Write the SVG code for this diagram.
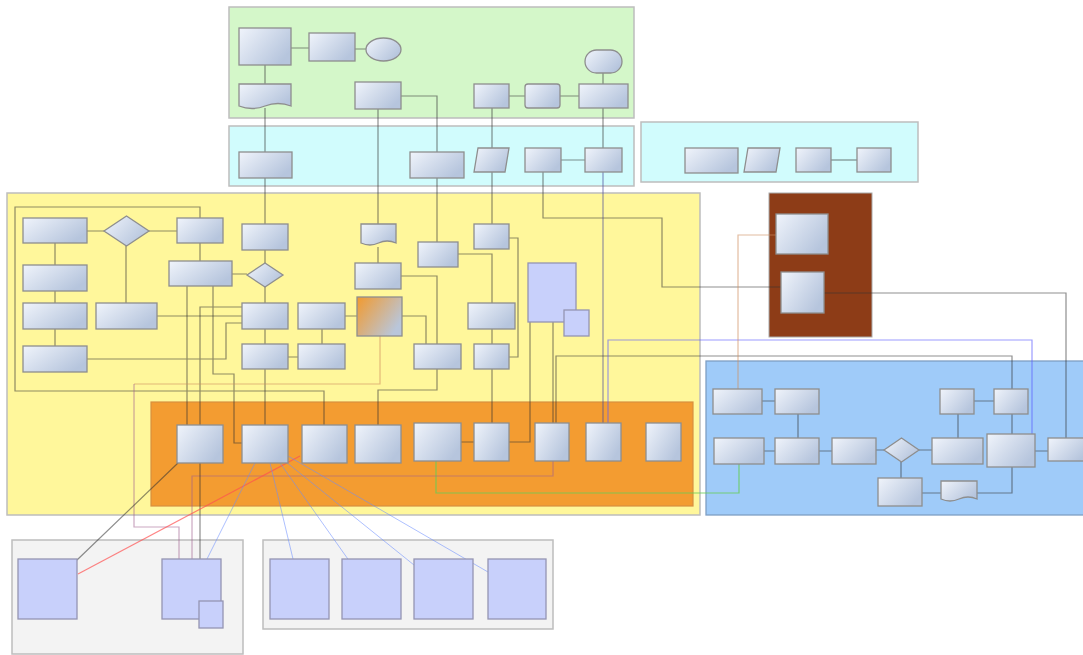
<svg xmlns="http://www.w3.org/2000/svg" width="1083" height="655" viewBox="0 0 1083 655">
<defs>
<linearGradient id="g" x1="0" y1="0" x2="1" y2="0.6"><stop offset="0" stop-color="#f0f4fb"/><stop offset="1" stop-color="#b6c5dd"/></linearGradient>
<linearGradient id="go" x1="0" y1="0" x2="1" y2="0.6"><stop offset="0" stop-color="#f29a2e"/><stop offset="1" stop-color="#b9c6da"/></linearGradient>
<style>
.n{fill:url(#g);stroke:#8e8e8e;stroke-width:1.3}
.p{fill:#c8d0fb;stroke:#9494b2;stroke-width:1.3}
.k{stroke:#bdbdbd;stroke-width:1.5}
.c{fill:none;stroke:#333;stroke-opacity:0.55;stroke-width:1.2}
.b{fill:none;stroke:#5a5aff;stroke-opacity:0.6;stroke-width:1.2}
.bg{fill:none;stroke:#4a4a9a;stroke-opacity:0.6;stroke-width:1.2}
.lb{fill:none;stroke:#6a8cff;stroke-opacity:0.55;stroke-width:1}
.gr{fill:none;stroke:#66cc55;stroke-opacity:0.8;stroke-width:1.2}
.rd{fill:none;stroke:#ff5050;stroke-opacity:0.7;stroke-width:1.2}
.mv{fill:none;stroke:#a06090;stroke-opacity:0.55;stroke-width:1.2}
.tn{fill:none;stroke:#d09060;stroke-opacity:0.6;stroke-width:1.2}
</style>
</defs>
<g id="containers">
<rect id="green" x="229" y="7" width="405" height="111" fill="#d4f7c9" class="k"/>
<rect id="cyan1" x="229" y="126" width="405" height="60" fill="#d1fcfd" class="k"/>
<rect id="cyan2" x="641" y="122" width="277" height="60" fill="#d1fcfd" class="k"/>
<rect id="yellow" x="7" y="193" width="693" height="322" fill="#fff79b" class="k"/>
<rect id="orange" x="151" y="402" width="542" height="104" fill="#f39c31" stroke="#d89040" stroke-width="1.2"/>
<rect id="brown" x="769" y="193" width="103" height="144" fill="#8d3c17" stroke="#aaa" stroke-width="1"/>
<rect id="blue" x="706" y="361" width="380" height="154" fill="#9fcbf9" stroke="#7f9fc4" stroke-width="1.3"/>
<rect id="gray1" x="12" y="540" width="231" height="114" fill="#f3f3f3" class="k"/>
<rect id="gray2" x="263" y="540" width="290" height="89" fill="#f3f3f3" class="k"/>
</g>
<g id="connectors">
<path class="c" d="M291,48H309M355,49H366M265,65V84M265,108V152M265,178V224M265,250V263M265,287V303M265,329V344M265,369V425"/>
<path class="c" d="M378,109V224M401,96H437V152M437,178V242M492,108V148M492,172V224M509,96H525M560,96H579M603,73V84M603,108V148M561,160H585"/>
<path class="c" d="M543,172V218H662V287H781"/>
<path class="bg" d="M603,172V423"/>
<path class="c" d="M831,160H857"/>
<path class="c" d="M87,231H104M149,231H177M126,246V303M55,243V265M55,291V303M55,329V346M200,243V261M232,274H247M157,316H242"/>
<path class="c" d="M87,359H226V323H242M187,286V425M213,286V374H234V443H242M242,307H200V425M200,218V207H15V391H324V425"/>
<path class="c" d="M378,247V263M401,276H437V344M437,369V390H378V425M402,316H426V344M345,316H357M322,329V344M288,357H298"/>
<path class="c" d="M458,254H492V303M509,238H518V357H509M492,329V344M492,369V423M530,322V442H509M553,322V423M461,442H474"/>
<path class="c" d="M556,423V356H1012V389"/>
<path class="b" d="M608,423V340H1032V434"/>
<path class="gr" d="M436,461V493H739V464"/>
<path class="mv" d="M553,461V476H192V559"/>
<path class="tn" d="M380,336V384H134"/>
<path class="mv" d="M134,384V527H179V559"/>
<path class="c" d="M200,463V559M178,463L77,560"/>
<path class="rd" d="M300,456L78,574"/>
<path class="lb" d="M255,463L207,559M270,463L293,559M280,463L350,562M286,462L414,565M288,456L488,572"/>
<path class="c" d="M762,401H775M798,414V438M764,451H775M819,451H832M876,450H884M919,450H932M974,401H994M958,414V438M1012,414V434M1035,451H1048M901,462V478M922,493H941M977,493H1012V467"/>
<path class="tn" d="M738,389V235H776"/>
<path class="c" d="M824,293H1066V438"/>
</g>
<g id="ga"><rect class="n" x="239" y="28" width="52" height="37"/></g>
<g id="gb"><rect class="n" x="309" y="33" width="46" height="28"/></g>
<g id="gell"><ellipse class="n" cx="383.5" cy="49.5" rx="17.5" ry="11.5"/></g>
<g id="gdoc"><path class="n" d="M239,84H291V106Q278,101 265,106T239,106Z"/></g>
<g id="gc"><rect class="n" x="355" y="82" width="46" height="27"/></g>
<g id="gd"><rect class="n" x="474" y="84" width="35" height="24"/></g>
<g id="ge"><rect class="n" x="525" y="84" width="35" height="24" rx="3"/></g>
<g id="gf"><rect class="n" x="579" y="84" width="49" height="24"/></g>
<g id="gst"><rect class="n" x="585" y="50" width="37" height="23" rx="11.5"/></g>
<g id="c1"><rect class="n" x="239" y="152" width="53" height="26"/></g>
<g id="c2"><rect class="n" x="410" y="152" width="54" height="26"/></g>
<g id="c3"><path class="n" d="M478,148H509L505,172H474Z"/></g>
<g id="c4"><rect class="n" x="525" y="148" width="36" height="24"/></g>
<g id="c5"><rect class="n" x="585" y="148" width="37" height="24"/></g>
<g id="d1"><rect class="n" x="685" y="148" width="53" height="25"/></g>
<g id="d2"><path class="n" d="M748,148H780L776,172H744Z"/></g>
<g id="d3"><rect class="n" x="796" y="148" width="35" height="24"/></g>
<g id="d4"><rect class="n" x="857" y="148" width="34" height="24"/></g>
<g id="y1"><rect class="n" x="23" y="218" width="64" height="25"/></g>
<g id="ydia1"><path class="n" d="M126.5,216L149,231L126.5,246L104,231Z"/></g>
<g id="y2"><rect class="n" x="177" y="218" width="46" height="25"/></g>
<g id="y3"><rect class="n" x="23" y="265" width="64" height="26"/></g>
<g id="y4"><rect class="n" x="23" y="303" width="64" height="26"/></g>
<g id="y5"><rect class="n" x="96" y="303" width="61" height="26"/></g>
<g id="y6"><rect class="n" x="23" y="346" width="64" height="26"/></g>
<g id="y7"><rect class="n" x="169" y="261" width="63" height="25"/></g>
<g id="ydia2"><path class="n" d="M265,263L283,275L265,287L247,275Z"/></g>
<g id="y8"><rect class="n" x="242" y="224" width="46" height="26"/></g>
<g id="y9"><rect class="n" x="242" y="303" width="46" height="26"/></g>
<g id="y10"><rect class="n" x="298" y="303" width="47" height="26"/></g>
<g id="y11"><rect class="n" x="242" y="344" width="46" height="25"/></g>
<g id="y12"><rect class="n" x="298" y="344" width="47" height="25"/></g>
<g id="ydoc"><path class="n" d="M361,224H396V243Q387,239 378.5,243T361,243Z"/></g>
<g id="y13"><rect class="n" x="355" y="263" width="46" height="26"/></g>
<g id="ygrad"><rect x="357" y="297" width="45" height="39" fill="url(#go)" stroke="#8e8e8e" stroke-width="1.3"/></g>
<g id="y14"><rect class="n" x="418" y="242" width="40" height="25"/></g>
<g id="y15"><rect class="n" x="474" y="224" width="35" height="25"/></g>
<g id="y16"><rect class="n" x="468" y="303" width="47" height="26"/></g>
<g id="y17"><rect class="n" x="414" y="344" width="47" height="25"/></g>
<g id="y18"><rect class="n" x="474" y="344" width="35" height="25"/></g>
<g id="ypur"><rect class="p" x="528" y="263" width="48" height="59"/><rect class="p" x="564" y="310" width="25" height="26"/></g>
<g id="o1"><rect class="n" x="177" y="425" width="46" height="38"/></g>
<g id="o2"><rect class="n" x="242" y="425" width="46" height="38"/></g>
<g id="o3"><rect class="n" x="302" y="425" width="45" height="38"/></g>
<g id="o4"><rect class="n" x="355" y="425" width="46" height="38"/></g>
<g id="o5"><rect class="n" x="414" y="423" width="47" height="38"/></g>
<g id="o6"><rect class="n" x="474" y="423" width="35" height="38"/></g>
<g id="o7"><rect class="n" x="535" y="423" width="34" height="38"/></g>
<g id="o8"><rect class="n" x="586" y="423" width="35" height="38"/></g>
<g id="o9"><rect class="n" x="646" y="423" width="35" height="38"/></g>
<g id="br1"><rect class="n" x="776" y="214" width="52" height="40"/></g>
<g id="br2"><rect class="n" x="781" y="272" width="43" height="41"/></g>
<g id="b1"><rect class="n" x="713" y="389" width="49" height="25"/></g>
<g id="b2"><rect class="n" x="775" y="389" width="44" height="25"/></g>
<g id="b3"><rect class="n" x="940" y="389" width="34" height="25"/></g>
<g id="b4"><rect class="n" x="994" y="389" width="34" height="25"/></g>
<g id="b5"><rect class="n" x="714" y="438" width="50" height="26"/></g>
<g id="b6"><rect class="n" x="775" y="438" width="44" height="26"/></g>
<g id="b7"><rect class="n" x="832" y="438" width="44" height="26"/></g>
<g id="bdia"><path class="n" d="M901.5,438L919,450L901.5,462L884,450Z"/></g>
<g id="b8"><rect class="n" x="932" y="438" width="51" height="26"/></g>
<g id="b9"><rect class="n" x="987" y="434" width="48" height="33"/></g>
<g id="b10"><rect class="n" x="1048" y="438" width="40" height="23"/></g>
<g id="b11"><rect class="n" x="878" y="478" width="44" height="28"/></g>
<g id="bdoc"><path class="n" d="M941,481H977V499Q968,495 959,499T941,499Z"/></g>
<g id="p1"><rect class="p" x="18" y="559" width="59" height="60"/></g>
<g id="p2"><rect class="p" x="162" y="559" width="59" height="60"/><rect class="p" x="199" y="601" width="24" height="27"/></g>
<g id="p3"><rect class="p" x="270" y="559" width="59" height="60"/></g>
<g id="p4"><rect class="p" x="342" y="559" width="59" height="60"/></g>
<g id="p5"><rect class="p" x="414" y="559" width="59" height="60"/></g>
<g id="p6"><rect class="p" x="488" y="559" width="58" height="60"/></g>
</svg>
